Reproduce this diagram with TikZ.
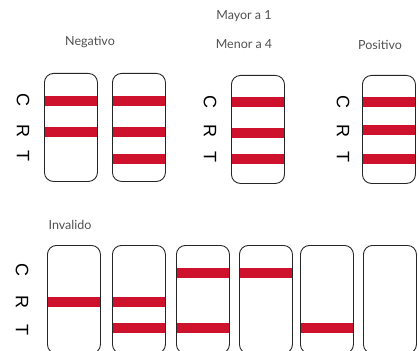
\documentclass[tikz,border=0pt]{standalone}
\usepackage{fontspec}
\setmainfont{Lato}
\newfontfamily\crtfont{Liberation Sans}
\usetikzlibrary{positioning, backgrounds}
\definecolor{rojo}{RGB}{206,17,45}
\definecolor{gristexto}{RGB}{80,80,80}

\begin{document}
\begin{tikzpicture}[x=1pt, y=-1pt,
		tira/.style={draw=black!85, line width=0.9pt, rounded corners=9pt, minimum width=53pt, minimum height=108pt, inner sep=0pt, anchor=north west},
		banda/.style={fill=rojo, draw=none},
		letra/.style={font=\crtfont\fontsize{18}{18}\selectfont, rotate=-90, inner sep=0pt},
		rotulo/.style={font=\fontsize{12.5}{14}\selectfont, text=gristexto}]
		\useasboundingbox (0,0) rectangle (419,350);
		% titulos
		\node[rotulo] (neg) at (90,42) {Negativo};
		\node[rotulo] (may) at (244,16) {Mayor a 1};
		\node[rotulo] (men) at (244,44) {Menor a 4};
		\node[rotulo] (pos) at (380,45) {Positivo};
		\node[rotulo] (inv) at (70,225) {Invalido};
		% tiras de arriba
		\node[tira] (t1) at (44,73) {};
		\node[tira] (t2) at (112,73) {};
		\node[tira] (t3) at (231,75) {};
		\node[tira] (t4) at (362,75) {};
		% tiras de abajo
		\node[tira] (b1) at (47,245) {};
		\node[tira] (b2) at (112,245) {};
		\node[tira] (b3) at (176,245) {};
		\node[tira] (b4) at (239,245) {};
		\node[tira] (b5) at (300,245) {};
		\node[tira] (b6) at (363,245) {};
		% letras C R T
		\foreach \x/\yc/\yr/\yt in {23/100/131/156, 210/102/131/157, 343/102/131/157, 22/270/302/330}{
			\node[letra] at (\x,\yc) {C};
			\node[letra] at (\x,\yr) {R};
			\node[letra] at (\x,\yt) {T};
		}
		% bandas
		\begin{scope}[on background layer]
			\foreach \t/\y in {t1/101, t1/132, t2/101, t2/132, t2/159, t3/101.5, t3/133, t3/158.5, t4/102, t4/129.5, t4/158.5,
				b1/302, b2/302, b2/328, b3/273, b3/328, b4/273, b5/328}{
				\fill[banda] (\t.west |- 0,\y-5) rectangle (\t.east |- 0,\y+5);
			}
		\end{scope}
	\end{tikzpicture}
\end{document}
